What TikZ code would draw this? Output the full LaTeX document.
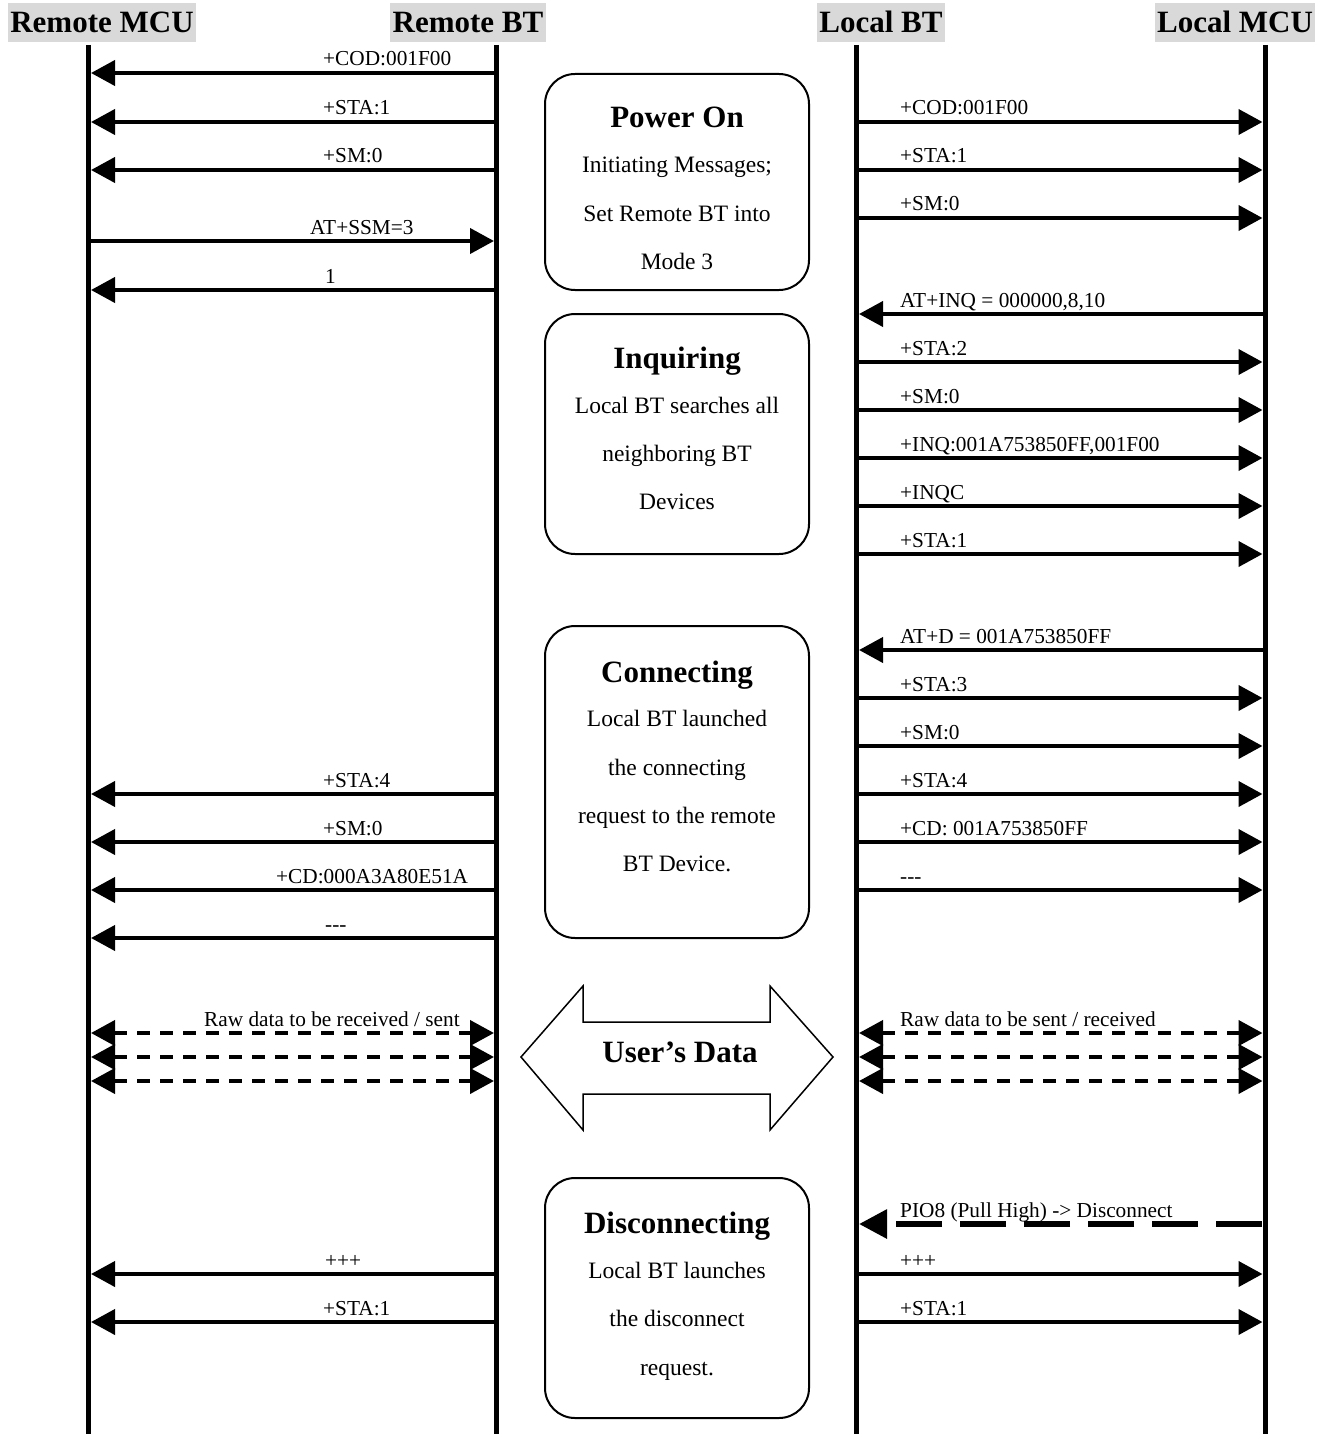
\documentclass[tikz,border=0pt]{standalone}
\usepackage{fontspec}
\setmainfont{Liberation Serif}
\usetikzlibrary{arrows.meta}
\definecolor{hdrgray}{RGB}{217,217,217}
\tikzset{
  lifeline/.style={line width=5pt},
  msg/.style={line width=4pt, -{Triangle[length=24pt,width=25pt]}},
  dmsg/.style={line width=4pt, {Triangle[length=24pt,width=25pt]}-{Triangle[length=24pt,width=25pt]}, dash pattern=on 13pt off 10pt},
  pmsg/.style={line width=6pt, -{Triangle[length=28pt,width=28pt]}, dash pattern=on 46pt off 18pt},
  lbl/.style={anchor=base west, inner sep=0pt, font=\fontsize{21.3}{21.3}\selectfont},
  hdr/.style={anchor=base, fill=hdrgray, inner xsep=2.5pt, inner ysep=1pt, text height=29pt, text depth=8pt, font=\fontsize{31}{31}\selectfont\bfseries},
  phase/.style={draw, line width=2pt, rounded corners=30pt, minimum width=264pt},
  ptitle/.style={anchor=base, inner sep=0pt, font=\fontsize{31}{31}\selectfont\bfseries},
  pbody/.style={anchor=base, inner sep=0pt, font=\fontsize{23.5}{23.5}\selectfont},
  bigarrow/.style={draw, line width=1.5pt, fill=white},
}
\newcommand\Msg[7][msg]{%
  \coordinate (#2a) at (#3,#5);
  \coordinate (#2b) at (#4,#5);
  \draw[#1] (#2a) -- (#2b);
  \node[lbl] (#2t) at (#6,#5-7) {#7};}
\begin{document}
\begin{tikzpicture}[x=1pt,y=-1pt]
\useasboundingbox (0,0) rectangle (1325,1434);
% headers
\node[hdr] (hRM) at (102,33) {Remote MCU};
\node[hdr] (hRB) at (468,33) {Remote BT};
\node[hdr] (hLB) at (881,33) {Local BT};
\node[hdr] (hLM) at (1235,33) {Local MCU};
% lifelines
\coordinate (rmT) at (88.5,45);  \coordinate (rmB) at (88.5,1434);
\coordinate (rbT) at (496.5,45); \coordinate (rbB) at (496.5,1434);
\coordinate (lbT) at (856.5,45); \coordinate (lbB) at (856.5,1434);
\coordinate (lmT) at (1265,45);  \coordinate (lmB) at (1265,1434);
\draw[lifeline] (rmT) -- (rmB);
\draw[lifeline] (rbT) -- (rbB);
\draw[lifeline] (lbT) -- (lbB);
\draw[lifeline] (lmT) -- (lmB);
% phase boxes
\node[phase, minimum height=216pt] (pwr) at (677,182) {};
\node[ptitle] (pwrT) at (677,128) {Power On};
\node[pbody] (pwr1) at (677,173) {Initiating Messages;};
\node[pbody] (pwr2) at (677,221) {Set Remote BT into};
\node[pbody] (pwr3) at (677,269) {Mode 3};
\node[phase, minimum height=240pt] (inq) at (677,434) {};
\node[ptitle] (inqT) at (677,368) {Inquiring};
\node[pbody] (inq1) at (677,413) {Local BT searches all};
\node[pbody] (inq2) at (677,461) {neighboring BT};
\node[pbody] (inq3) at (677,509) {Devices};
\node[phase, minimum height=312pt] (con) at (677,782) {};
\node[ptitle] (conT) at (677,682) {Connecting};
\node[pbody] (con1) at (677,726) {Local BT launched};
\node[pbody] (con2) at (677,775) {the connecting};
\node[pbody] (con3) at (677,823) {request to the remote};
\node[pbody] (con4) at (677,871) {BT Device.};
\node[phase, minimum height=240pt] (dis) at (677,1298) {};
\node[ptitle] (disT) at (677,1233) {Disconnecting};
\node[pbody] (dis1) at (677,1278) {Local BT launches};
\node[pbody] (dis2) at (677,1326) {the disconnect};
\node[pbody] (dis3) at (677,1375) {request.};
% user's data double arrow
\draw[bigarrow] (521,1057) -- (583,986) -- (583,1022) -- (770,1022) -- (770,986) -- (833,1057) -- (770,1130) -- (770,1094) -- (583,1094) -- (583,1130) -- cycle;
\node[ptitle, anchor=center] (ud) at (680,1052) {User’s Data};
% left messages
\Msg{La}{496.5}{91}{73}{323}{+COD:001F00}
\Msg{Lb}{496.5}{91}{122}{323}{+STA:1}
\Msg{Lc}{496.5}{91}{170}{323}{+SM:0}
\Msg{Ld}{88.5}{494}{241}{310}{AT+SSM=3}
\Msg{Le}{496.5}{91}{290}{325}{1}
\Msg{Lf}{496.5}{91}{794}{323}{+STA:4}
\Msg{Lg}{496.5}{91}{842}{323}{+SM:0}
\Msg{Lh}{496.5}{91}{890}{276}{+CD:000A3A80E51A}
\Msg{Li}{496.5}{91}{938}{325}{{-}{-}{-}}
\Msg[dmsg]{Lj}{91}{494}{1033}{204}{Raw data to be received / sent}
\coordinate (Lka) at (91,1057); \coordinate (Lkb) at (494,1057);
\draw[dmsg] (Lka) -- (Lkb);
\coordinate (Lla) at (91,1081); \coordinate (Llb) at (494,1081);
\draw[dmsg] (Lla) -- (Llb);
\Msg{Lm}{496.5}{91}{1274}{325}{+++}
\Msg{Ln}{496.5}{91}{1322}{323}{+STA:1}
% right messages
\Msg{Ra}{856.5}{1262.5}{122}{900}{+COD:001F00}
\Msg{Rb}{856.5}{1262.5}{170}{900}{+STA:1}
\Msg{Rc}{856.5}{1262.5}{218}{900}{+SM:0}
\Msg{Rd}{1265}{859}{314}{900}{AT+INQ = 000000,8,10}
\Msg{Re}{856.5}{1262.5}{362}{900}{+STA:2}
\Msg{Rf}{856.5}{1262.5}{410}{900}{+SM:0}
\Msg{Rg}{856.5}{1262.5}{458}{900}{+INQ:001A753850FF,001F00}
\Msg{Rh}{856.5}{1262.5}{506}{900}{+INQC}
\Msg{Ri}{856.5}{1262.5}{554}{900}{+STA:1}
\Msg{Rj}{1265}{859}{650}{900}{AT+D = 001A753850FF}
\Msg{Rk}{856.5}{1262.5}{698}{900}{+STA:3}
\Msg{Rl}{856.5}{1262.5}{746}{900}{+SM:0}
\Msg{Rm}{856.5}{1262.5}{794}{900}{+STA:4}
\Msg{Rn}{856.5}{1262.5}{842}{900}{+CD: 001A753850FF}
\Msg{Ro}{856.5}{1262.5}{890}{900}{{-}{-}{-}}
\Msg[dmsg]{Rp}{859}{1262.5}{1033}{900}{Raw data to be sent / received}
\coordinate (Rqa) at (859,1057); \coordinate (Rqb) at (1262.5,1057);
\draw[dmsg] (Rqa) -- (Rqb);
\coordinate (Rra) at (859,1081); \coordinate (Rrb) at (1262.5,1081);
\draw[dmsg] (Rra) -- (Rrb);
\Msg[pmsg]{Rs}{1262}{859}{1224}{900}{PIO8 (Pull High) -> Disconnect}
\Msg{Rt}{856.5}{1262.5}{1274}{900}{+++}
\Msg{Ru}{856.5}{1262.5}{1322}{900}{+STA:1}
\end{tikzpicture}
\end{document}
